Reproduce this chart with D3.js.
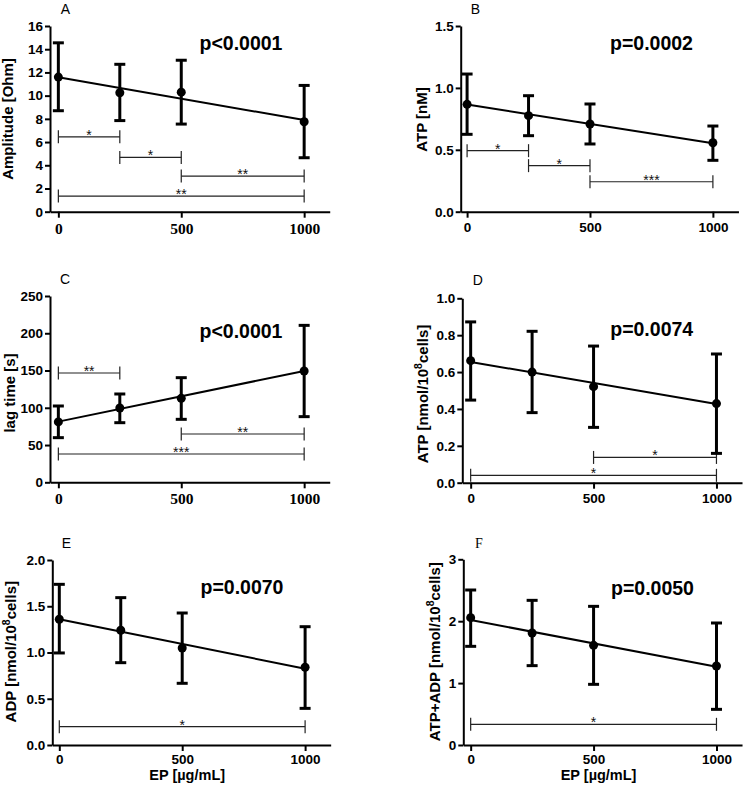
<!DOCTYPE html>
<html>
<head>
<meta charset="utf-8">
<script src="https://cdn.jsdelivr.net/npm/d3@7"></script>
<style>
  html, body { margin: 0; padding: 0; background: #fff; }
  svg { display: block; }
</style>
</head>
<body>
<svg id="chart" width="743" height="789"></svg>
<script>
// ---------- data ----------
const doses = [0, 250, 500, 1000];
const xTickValues = [0, 500, 1000];
const xAxisLabel = "EP [µg/mL]";

// A: Amplitude [Ohm]
const ampMean = [11.6, 10.25, 10.3, 7.75];
const ampLow  = [8.7, 7.85, 7.55, 4.65];
const ampHigh = [14.55, 12.7, 13.05, 10.88];
const ampFit  = [11.58, 7.9];
const ampSig  = [[0, 250, 6.45, "*"], [250, 500, 4.68, "*"], [500, 1000, 3.07, "**"], [0, 1000, 1.35, "**"]];
const ampTicks = [0, 2, 4, 6, 8, 10, 12, 14, 16];

// B: ATP [nM]
const atpMean = [0.867, 0.776, 0.708, 0.557];
const atpLow  = [0.625, 0.614, 0.547, 0.415];
const atpHigh = [1.112, 0.937, 0.87, 0.692];
const atpFit  = [0.866, 0.552];
const atpSig  = [[0, 250, 0.493, "*"], [250, 500, 0.372, "*"], [500, 1000, 0.242, "***"]];
const atpTicks = [0, 0.5, 1.0, 1.5];

// C: lag time [s]
const lagMean = [81, 99.7, 112.7, 149.4];
const lagLow  = [59.9, 80, 84.5, 88.1];
const lagHigh = [102.4, 118.5, 140.4, 210.6];
const lagFit  = [81.4, 149.4];
const lagSig  = [[0, 250, 146.7, "**"], [500, 1000, 64.8, "**"], [0, 1000, 38, "***"]];
const lagTicks = [0, 50, 100, 150, 200, 250];

// D: ATP [nmol/10^8 cells]
const atpcMean = [0.662, 0.600, 0.521, 0.429];
const atpcLow  = [0.448, 0.38, 0.30, 0.159];
const atpcHigh = [0.872, 0.821, 0.741, 0.698];
const atpcFit  = [0.655, 0.427];
const atpcSig  = [[500, 1000, 0.137, "*"], [0, 1000, 0.04, "*"]];
const atpcTicks = [0, 0.2, 0.4, 0.6, 0.8, 1.0];

// E: ADP [nmol/10^8 cells]
const adpMean = [1.359, 1.24, 1.049, 0.84];
const adpLow  = [0.995, 0.89, 0.667, 0.396];
const adpHigh = [1.737, 1.593, 1.427, 1.279];
const adpFit  = [1.359, 0.825];
const adpSig  = [[0, 1000, 0.198, "*"]];
const adpTicks = [0, 0.5, 1.0, 1.5, 2.0];

// F: ATP+ADP [nmol/10^8 cells]
const sumMean = [2.057, 1.809, 1.61, 1.276];
const sumLow  = [1.594, 1.282, 0.98, 0.576];
const sumHigh = [2.504, 2.337, 2.24, 1.971];
const sumFit  = [2.019, 1.265];
const sumSig  = [[0, 1000, 0.334, "*"]];
const sumTicks = [0, 1, 2, 3];

const panelLetters = ["A", "B", "C", "D", "E", "F"];
const pValues = ["p<0.0001", "p=0.0002", "p<0.0001", "p=0.0074", "p=0.0070", "p=0.0050"];

// ---------- layout ----------
const SANS = "'Liberation Sans', Arial, sans-serif";
const SERIF = "'Liberation Serif', 'Times New Roman', serif";
const PX_PER_UNIT = 0.2458;
const XHI = 1104;

const panels = [
  { letter: panelLetters[0], p: pValues[0], mean: ampMean, lo: ampLow, hi: ampHigh, fit: ampFit, sig: ampSig,
    ticks: ampTicks, fmt: d3.format("d"), ylabel: ["Amplitude [Ohm]"],
    ax: 50, top: 26, bot: 211.7, xlo: -34, xFont: SERIF, xFs: 15.5, letterFont: SANS,
    lx: 13, ly: 119, letX: 60.7, letY: 14, pX: 241, pY: 50, xlabel: false },
  { letter: panelLetters[1], p: pValues[1], mean: atpMean, lo: atpLow, hi: atpHigh, fit: atpFit, sig: atpSig,
    ticks: atpTicks, fmt: d3.format(".1f"), ylabel: ["ATP [nM]"],
    ax: 460.7, top: 26, bot: 211.7, xlo: -26, xFont: SANS, xFs: 13.5, letterFont: SANS,
    lx: 427.4, ly: 119.5, letX: 470.7, letY: 14, pX: 651.5, pY: 50, xlabel: false },
  { letter: panelLetters[2], p: pValues[2], mean: lagMean, lo: lagLow, hi: lagHigh, fit: lagFit, sig: lagSig,
    ticks: lagTicks, fmt: d3.format("d"), ylabel: ["lag time [s]"],
    ax: 50, top: 296, bot: 482.3, xlo: -34, xFont: SERIF, xFs: 15.5, letterFont: SANS,
    lx: 14.5, ly: 393, letX: 60, letY: 284, pX: 241, pY: 338, xlabel: false },
  { letter: panelLetters[3], p: pValues[3], mean: atpcMean, lo: atpcLow, hi: atpcHigh, fit: atpcFit, sig: atpcSig,
    ticks: atpcTicks, fmt: d3.format(".1f"), ylabel: ["ATP [nmol/10", "8", "cells]"],
    ax: 462.3, top: 298.3, bot: 482.7, xlo: -34, xFont: SANS, xFs: 13.5, letterFont: SANS,
    lx: 427.5, ly: 394, letX: 472.7, letY: 285, pX: 651.7, pY: 336, xlabel: false },
  { letter: panelLetters[4], p: pValues[4], mean: adpMean, lo: adpLow, hi: adpHigh, fit: adpFit, sig: adpSig,
    ticks: adpTicks, fmt: d3.format(".1f"), ylabel: ["ADP [nmol/10", "8", "cells]"],
    ax: 52.3, top: 560, bot: 745, xlo: -28.5, xFont: SANS, xFs: 13.5, letterFont: SANS,
    lx: 16, ly: 651.7, letX: 61.7, letY: 548, pX: 242, pY: 594, xlabel: true },
  { letter: panelLetters[5], p: pValues[5], mean: sumMean, lo: sumLow, hi: sumHigh, fit: sumFit, sig: sumSig,
    ticks: sumTicks, fmt: d3.format("d"), ylabel: ["ATP+ADP [nmol/10", "8", "cells]"],
    ax: 463.3, top: 559.3, bot: 745, xlo: -30, xFont: SANS, xFs: 13.5, letterFont: SERIF,
    lx: 440, ly: 651.7, letX: 475, letY: 548, pX: 652.5, pY: 595, xlabel: true }
];

const svg = d3.select("#chart");

function drawPanel(cfg) {
  const x = d3.scaleLinear().domain([cfg.xlo, XHI])
    .range([cfg.ax, cfg.ax + (XHI - cfg.xlo) * PX_PER_UNIT]);
  const y = d3.scaleLinear().domain([0, d3.max(cfg.ticks)]).range([cfg.bot, cfg.top]);
  const g = svg.append("g");

  // y axis
  const yAxis = d3.axisLeft(y).tickValues(cfg.ticks).tickFormat(cfg.fmt)
    .tickSize(5).tickSizeOuter(0).tickPadding(2);
  const yg = g.append("g").attr("transform", `translate(${cfg.ax},0)`).call(yAxis);
  yg.select(".domain").attr("stroke", "#000").attr("stroke-width", 2);
  yg.selectAll(".tick line").attr("stroke", "#000").attr("stroke-width", 2);
  yg.selectAll(".tick text").attr("font-family", SANS).attr("font-weight", "bold")
    .attr("font-size", 13.5).attr("fill", "#000");

  // x axis
  const xAxis = d3.axisBottom(x).tickValues(xTickValues).tickFormat(d3.format("d"))
    .tickSize(6).tickSizeOuter(0).tickPadding(cfg.xlabel ? 3 : 5);
  const xg = g.append("g").attr("transform", `translate(0,${cfg.bot})`).call(xAxis);
  xg.select(".domain").attr("stroke", "#000").attr("stroke-width", 2);
  xg.selectAll(".tick line").attr("stroke", "#000").attr("stroke-width", 2);
  xg.selectAll(".tick text").attr("font-family", cfg.xFont).attr("font-weight", "bold")
    .attr("font-size", cfg.xFs).attr("fill", "#000");

  // significance brackets
  const sg = g.append("g");
  cfg.sig.forEach(s => {
    const [a, b, v, label] = s;
    const yy = y(v);
    sg.append("line").attr("x1", x(a)).attr("x2", x(b)).attr("y1", yy).attr("y2", yy)
      .attr("stroke", "#222").attr("stroke-width", 1.2);
    [a, b].forEach(e => {
      sg.append("line").attr("x1", x(e)).attr("x2", x(e)).attr("y1", yy - 6.5).attr("y2", yy + 6.5)
        .attr("stroke", "#222").attr("stroke-width", 1.2);
    });
    sg.append("text").attr("x", (x(a) + x(b)) / 2).attr("y", yy + 3)
      .attr("text-anchor", "middle").attr("font-family", SANS).attr("font-size", 14)
      .attr("fill", "#111").text(label);
  });

  // regression line
  g.append("line")
    .attr("x1", x(doses[0])).attr("y1", y(cfg.fit[0]))
    .attr("x2", x(doses[doses.length - 1])).attr("y2", y(cfg.fit[1]))
    .attr("stroke", "#000").attr("stroke-width", 2);

  // error bars
  const eg = g.append("g").attr("stroke", "#000").attr("stroke-width", 3);
  doses.forEach((d, i) => {
    eg.append("line").attr("x1", x(d)).attr("x2", x(d)).attr("y1", y(cfg.lo[i])).attr("y2", y(cfg.hi[i]));
    eg.append("line").attr("x1", x(d) - 5.5).attr("x2", x(d) + 5.5).attr("y1", y(cfg.lo[i])).attr("y2", y(cfg.lo[i]));
    eg.append("line").attr("x1", x(d) - 5.5).attr("x2", x(d) + 5.5).attr("y1", y(cfg.hi[i])).attr("y2", y(cfg.hi[i]));
  });

  // points
  g.selectAll("circle.pt").data(doses).join("circle").attr("class", "pt")
    .attr("cx", d => x(d)).attr("cy", (d, i) => y(cfg.mean[i])).attr("r", 4.5).attr("fill", "#000");

  // y label
  const yl = g.append("text")
    .attr("transform", `translate(${cfg.lx},${cfg.ly}) rotate(-90)`)
    .attr("text-anchor", "middle").attr("font-family", SANS).attr("font-weight", "bold")
    .attr("font-size", 15).attr("fill", "#000");
  if (cfg.ylabel.length === 1) {
    yl.text(cfg.ylabel[0]);
  } else {
    yl.append("tspan").text(cfg.ylabel[0]);
    yl.append("tspan").attr("dy", -6).attr("font-size", 10.5).text(cfg.ylabel[1]);
    yl.append("tspan").attr("dy", 6).text(cfg.ylabel[2]);
  }

  // panel letter
  g.append("text").attr("x", cfg.letX).attr("y", cfg.letY)
    .attr("font-family", cfg.letterFont).attr("font-size", 14).attr("fill", "#000").text(cfg.letter);

  // p value
  g.append("text").attr("x", cfg.pX).attr("y", cfg.pY).attr("text-anchor", "middle")
    .attr("font-family", SANS).attr("font-weight", "bold").attr("font-size", 19.5)
    .attr("fill", "#000").text(cfg.p);

  // x label
  if (cfg.xlabel) {
    g.append("text").attr("x", x(500) + 5).attr("y", cfg.bot + 35).attr("text-anchor", "middle")
      .attr("font-family", SANS).attr("font-weight", "bold").attr("font-size", 14.5)
      .attr("fill", "#000").text(xAxisLabel);
  }
}

panels.forEach(drawPanel);
</script>
</body>
</html>
